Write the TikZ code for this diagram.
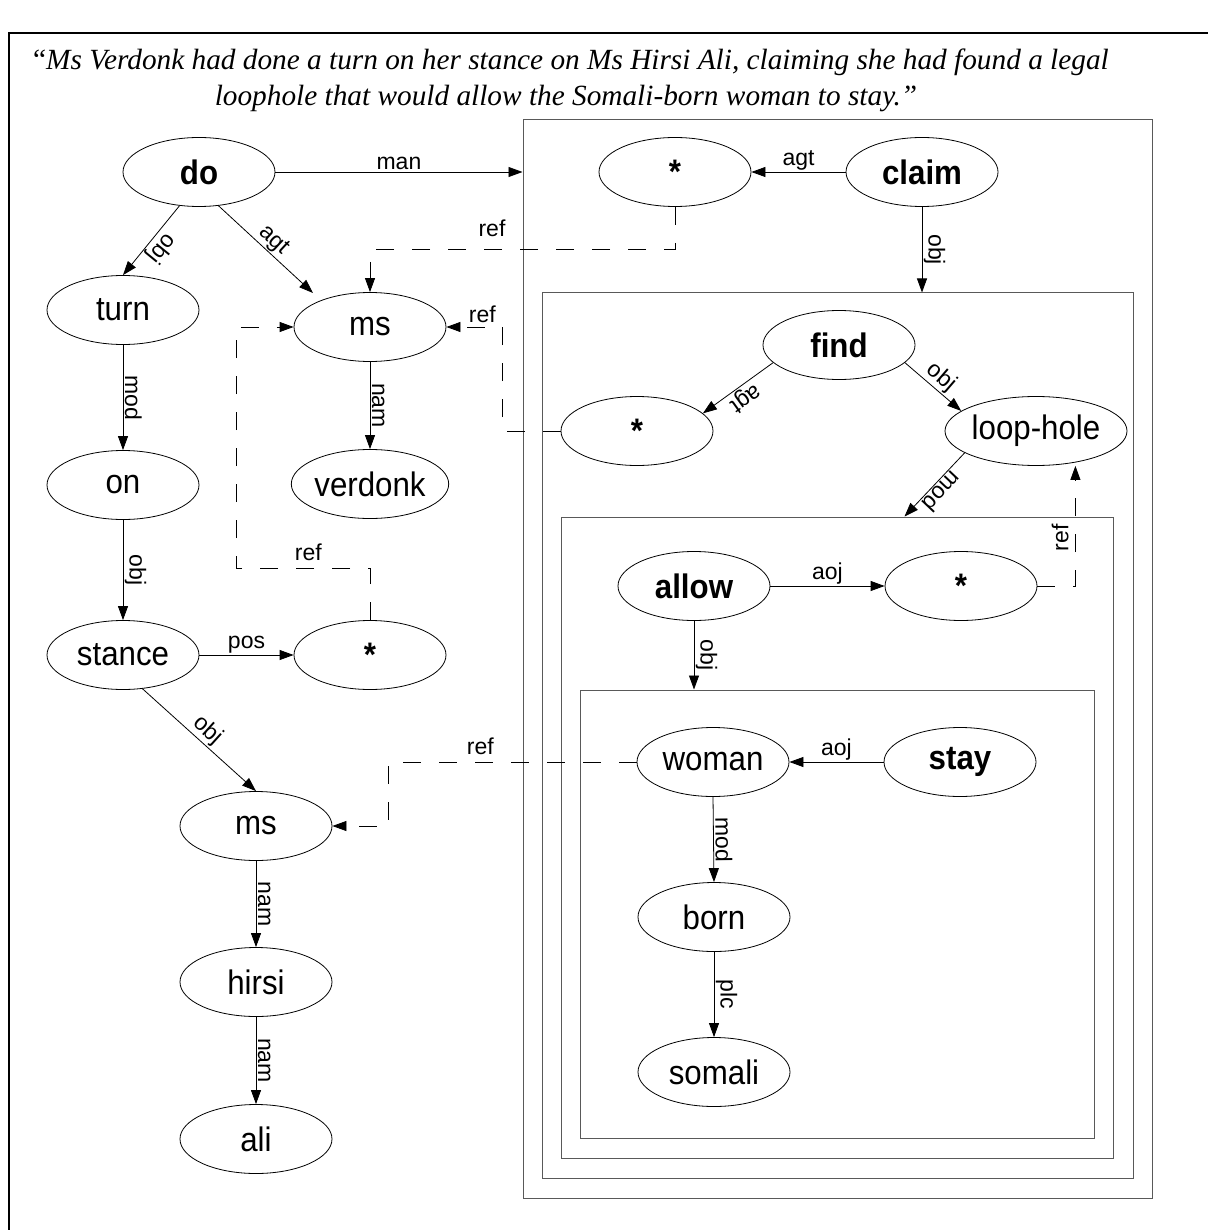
\documentclass[tikz,border=0pt]{standalone}
\usepackage{fontspec}
\setmainfont{Liberation Sans}
\newfontfamily\nodefont[FakeStretch=0.92]{Liberation Sans}
\newfontfamily\quotefont{Liberation Serif}
\usetikzlibrary{shapes.geometric,arrows.meta,calc}

\begin{document}
\begin{tikzpicture}[x=1pt,y=-1pt,
  concept/.style={ellipse,draw,line width=0.8pt,minimum width=152pt,minimum height=69pt,
    inner sep=0pt,font=\nodefont\fontsize{34}{40}\selectfont},
  head/.style={concept,font=\nodefont\bfseries\fontsize{34}{40}\selectfont},
  scopebox/.style={draw=black!65,line width=1pt,inner sep=0pt},
  rel/.style={draw,line width=0.8pt,-{Triangle[length=14pt,width=10pt]}},
  refline/.style={rel,dash pattern=on 18pt off 18pt},
  lbl/.style={font=\fontsize{23}{26}\selectfont,inner sep=1.5pt},
  along/.style={lbl,sloped,allow upside down,above,midway},
  quote/.style={anchor=base,inner sep=0pt,font=\quotefont\itshape\fontsize{29.3}{36}\selectfont}
]
\useasboundingbox (0,0) rectangle (1208,1230);
\fill[white] (0,0) rectangle (1208,1230);

% page frame
\draw[line width=1.3pt] (9,1230) -- (9,33) -- (1208,33);

% sentence
\node[quote] (quote1) at (571,70) {{\upshape “}Ms Verdonk had done a turn on her stance on Ms Hirsi Ali, claiming she had found a legal};
\node[quote] (quote2) at (566,106) {loophole that would allow the Somali-born woman to stay.”};

% nested scopes
\node[scopebox,minimum width=629pt,minimum height=1078pt] (box1) at (837.5,659) {};
\node[scopebox,minimum width=591pt,minimum height=885pt] (box2) at (837.5,735.5) {};
\node[scopebox,minimum width=552pt,minimum height=641pt] (box3) at (837,837.5) {};
\node[scopebox,minimum width=514pt,minimum height=448pt] (box4) at (837,914) {};

% concepts, main clause
\node[head] (do) at (199,172) {do};
\node[concept] (turn) at (123,310) {turn};
\node[concept] (on) at (123,485) {on};
\node[concept] (stance) at (123,655) {stance};
\node[head] (star1) at (370,655) {*};
\node[concept] (ms1) at (370,327) {ms};
\node[concept] (verdonk) at (370,484) {verdonk};
\node[concept] (ms2) at (256,826) {ms};
\node[concept] (hirsi) at (256,982) {hirsi};
\node[concept] (ali) at (256,1139) {ali};

% concepts inside the scopes
\node[head] (star2) at (675,172) {*};
\node[head] (claim) at (922,172) {claim};
\node[head] (find) at (839,345) {find};
\node[head] (star3) at (637,431) {*};
\node[concept] (loophole) at (1036,431) {loop-hole};
\node[head] (allow) at (694,586) {allow};
\node[head] (star4) at (961,586) {*};
\node[concept] (woman) at (713,762) {woman};
\node[head] (stay) at (960,762) {stay};
\node[concept] (born) at (714,917) {born};
\node[concept] (somali) at (714,1072) {somali};

% relations
\draw[rel] (do.east) -- node[along]{man} (box1.west |- do.east);
\draw[rel] (do.-120) -- node[along]{obj} (turn.north);
\draw[rel] (do.-60) -- node[along]{agt} ($(ms1.center)+(-57,-34)$);
\draw[rel] (turn.south) -- node[along]{mod} (on.north);
\draw[rel] (on.south) -- node[along]{obj} (stance.north);
\draw[rel] (stance.east) -- node[along]{pos} (star1.west);
\draw[rel] (stance.-60) -- node[along]{obj} (ms2.north);
\draw[rel] (ms1.south) -- node[along]{nam} (verdonk.north);
\draw[rel] (ms2.south) -- node[along]{nam} (hirsi.north);
\draw[rel] (hirsi.south) -- node[along]{nam} (ali.north);

\draw[rel] (claim.west) -- node[lbl,above,midway]{agt} (star2.east);
\draw[rel] (claim.south) -- node[along]{obj} (claim |- box2.north);
\draw[rel] (find.-165) -- node[along]{agt} (star3.15);
\draw[rel] (find.-15) -- node[along]{obj} (loophole.165);
\draw[rel] (loophole.-163) -- node[along]{mod} ($(box3.north west)+(344,0)$);
\draw[rel] (allow.east) -- node[along]{aoj} (star4.west);
\draw[rel] (allow.south) -- node[along]{obj} (allow |- box4.north);
\draw[rel] (stay.west) -- node[lbl,above,midway]{aoj} (woman.east);
\draw[rel] (woman.south) -- node[along]{mod} (born.north);
\draw[rel] (born.south) -- node[along]{plc} (somali.north);

% co-reference links
\draw[refline] (star2.south) -- ++(0,43) -| node[lbl,above=11pt,pos=0.3]{ref} (ms1.north);
\draw[refline] (star1.north) -- ++(0,-52) -- node[lbl,above=5pt,pos=0.46]{ref} ++(-134,0) |- (ms1.west);
\draw[refline] (star3.west) -- ++(-58,0) |- node[lbl,above=2pt,pos=0.68]{ref} (ms1.east);
\draw[refline] (star4.east) -- ++(38,0) coordinate (r4a) -- node[along,above=5pt,pos=0.4]{ref} (r4a |- loophole.south);
\draw[refline] (woman.west) -- node[lbl,above=5pt,pos=0.63]{ref} ++(-248,0) |- (ms2.east);
\end{tikzpicture}
\end{document}
